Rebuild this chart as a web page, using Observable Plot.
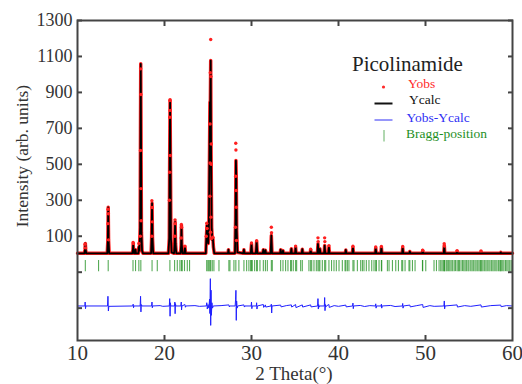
<!DOCTYPE html>
<html>
<head>
<meta charset="utf-8">
<script src="https://cdn.jsdelivr.net/npm/d3@7"></script>
<script src="https://cdn.jsdelivr.net/npm/@observablehq/plot@0.6"></script>
<style>
  html, body { margin: 0; padding: 0; background: #fff; }
  #chart { width: 522px; height: 384px; }
  #chart svg text { font-family: "Liberation Serif", "Times New Roman", Times, "Nimbus Roman", "Noto Serif", "DejaVu Serif", FreeSerif, serif; }
</style>
</head>
<body>
<div id="chart"></div>
<script>
// ---- data (2θ in degrees, intensity in arb. units) ----
const xTicks = [10, 20, 30, 40, 50, 60];
const yTickLabels = [100, 300, 500, 700, 900, 1100, 1300];
const yTickMarks = [-300, -100, 100, 300, 500, 700, 900, 1100, 1300];

// calculated profile (Ycalc)
const ycalc = [
  [10.0,5],[10.80,5],[10.86,25],[10.90,60],[10.94,25],[11.0,5],
  [13.42,5],[13.49,80],[13.53,261],[13.57,80],[13.64,5],
  [16.30,5],[16.37,25],[16.40,55],[16.44,25],[16.50,5],
  [16.62,5],[16.67,25],[16.72,5],
  [17.00,5],[17.05,40],[17.12,20],[17.20,150],[17.24,700],[17.27,1059],[17.31,560],[17.35,120],[17.42,20],[17.52,5],
  [18.46,5],[18.52,90],[18.57,284],[18.62,90],[18.70,5],
  [20.45,5],[20.55,90],[20.59,500],[20.64,859],[20.69,480],[20.74,90],[20.82,10],
  [21.10,5],[21.17,60],[21.22,180],[21.27,60],[21.35,5],
  [21.85,5],[21.91,50],[21.95,160],[21.99,50],[22.08,5],
  [22.28,5],[22.35,40],[22.42,5],
  [24.75,5],[24.82,100],[24.88,160],[24.94,110],[25.02,60],[25.10,150],[25.18,600],[25.22,846],[25.27,840],[25.31,1077],[25.35,600],[25.42,150],[25.50,80],[25.56,90],[25.62,40],[25.72,5],
  [27.30,5],[27.35,25],[27.40,5],
  [28.10,5],[28.17,200],[28.21,521],[28.25,420],[28.30,130],[28.38,10],
  [29.05,5],[29.13,25],[29.20,5],
  [29.92,5],[30.00,58],[30.07,5],
  [30.50,5],[30.59,71],[30.67,5],
  [31.30,5],[31.36,25],[31.43,5],[31.55,5],[31.60,22],[31.66,5],
  [32.20,5],[32.28,104],[32.36,5],
  [33.30,5],[33.35,25],[33.40,5],
  [33.55,5],[33.62,20],[33.68,5],
  [34.52,5],[34.58,30],[34.64,5],
  [35.01,5],[35.07,39],[35.13,5],
  [35.78,5],[35.84,28],[35.90,5],
  [36.74,5],[36.80,24],[36.86,5],
  [37.58,5],[37.64,58],[37.70,5],
  [37.80,5],[37.86,30],[37.92,5],
  [38.35,5],[38.41,48],[38.47,5],
  [38.84,5],[38.90,40],[38.96,5],
  [40.78,5],[40.84,24],[40.90,5],
  [41.60,5],[41.66,38],[41.72,5],
  [44.22,5],[44.28,35],[44.34,5],
  [44.87,5],[44.93,38],[44.99,5],
  [47.32,5],[47.38,36],[47.44,5],
  [48.15,5],[48.20,15],[48.25,5],
  [49.62,5],[49.68,20],[49.74,5],
  [52.10,5],[52.16,48],[52.22,5],
  [53.58,5],[53.63,15],[53.68,5],
  [56.33,5],[56.38,14],[56.43,5],
  [58.60,5],[58.65,10],[58.70,5],
  [60.0,5]
];

// observed points on the peaks (Yobs)
const yobs = [
  [10.88,55],[10.92,35],
  [13.51,250],[13.55,225],[13.50,170],[13.56,80],
  [16.39,65],[16.42,60],
  [17.05,60],[17.26,1031],[17.28,888],[17.24,577],[17.29,365],[17.31,186],[17.22,100],
  [18.55,298],[18.58,260],[18.60,180],[18.54,100],
  [20.63,855],[20.65,800],[20.61,762],[20.66,549],[20.60,456],[20.57,300],
  [21.21,191],[21.23,170],[21.19,100],
  [21.94,165],[21.96,150],[21.92,90],
  [22.35,45],
  [24.86,172],[24.90,143],[24.80,100],
  [25.31,1194],[25.26,1009],[25.33,988],[25.24,724],[25.24,507],[25.37,613],[25.37,500],[25.22,322],[25.34,206],[25.29,122],[25.40,87],[25.56,95],
  [28.19,617],[28.21,580],[28.18,434],[28.23,354],[28.24,261],[28.16,150],[28.27,76],
  [30.00,62],[30.59,75],
  [32.28,150],[32.30,119],
  [35.07,45],[36.80,28],[37.64,91],[37.66,70],[38.41,91],[38.43,70],[38.90,48],
  [41.66,44],[44.28,40],[44.93,43],[47.38,43],[49.68,22],[52.15,58],[52.18,45],[53.63,20],[56.38,18]
];

// difference curve (Yobs - Ycalc, shown offset)
const diff = [
  [10,-288],[10.85,-288],[10.88,-266],[10.92,-303],[10.96,-288],
  [13.45,-288],[13.50,-234],[13.55,-316],[13.60,-290],
  [16.35,-288],[16.40,-278],[16.44,-298],[16.48,-288],
  [17.20,-288],[17.25,-234],[17.29,-321],[17.33,-280],[17.40,-288],
  [18.52,-288],[18.56,-266],[18.60,-298],[18.64,-288],
  [19.5,-286],[19.8,-290],
  [20.55,-288],[20.60,-247],[20.64,-345],[20.68,-270],[20.72,-288],
  [21.15,-288],[21.19,-266],[21.22,-331],[21.26,-275],[21.30,-288],
  [21.88,-288],[21.93,-266],[21.96,-310],[22.00,-288],
  [22.35,-280],[22.40,-295],[22.45,-288],
  [23.5,-286],[24.0,-290],
  [24.80,-288],[24.86,-270],[24.92,-305],[25.00,-280],[25.10,-300],[25.18,-250],[25.22,-330],[25.27,-136],[25.31,-396],[25.35,-200],[25.39,-340],[25.45,-270],[25.52,-300],[25.60,-288],
  [26.5,-286],[27.4,-282],[27.45,-293],[27.5,-288],
  [28.12,-288],[28.17,-250],[28.21,-201],[28.25,-368],[28.29,-260],[28.35,-300],[28.42,-288],
  [29.13,-282],[29.18,-294],[29.25,-288],
  [29.96,-288],[30.00,-266],[30.04,-303],[30.08,-288],
  [30.55,-288],[30.59,-270],[30.63,-305],[30.67,-288],
  [31.36,-280],[31.40,-296],[31.60,-282],[31.64,-294],
  [32.24,-288],[32.28,-278],[32.32,-327],[32.36,-288],
  [33.35,-283],[33.40,-293],[34.0,-286],[34.58,-282],[34.62,-294],[35.07,-280],[35.11,-297],[35.84,-282],[35.88,-294],[36.80,-282],[36.84,-293],
  [37.60,-288],[37.64,-247],[37.68,-305],[37.72,-280],[37.76,-295],[37.80,-288],
  [38.37,-288],[38.41,-241],[38.45,-314],[38.49,-280],[38.53,-294],[38.60,-288],
  [38.90,-280],[38.94,-296],[39.5,-286],[40.0,-290],[40.84,-283],[40.88,-293],
  [41.62,-288],[41.66,-272],[41.70,-303],[41.74,-288],
  [42.5,-285],[43.0,-291],[43.6,-286],
  [44.24,-288],[44.28,-276],[44.32,-300],[44.36,-288],
  [44.89,-288],[44.93,-278],[44.97,-300],[45.01,-288],
  [46.0,-285],[46.5,-291],
  [47.34,-288],[47.38,-274],[47.42,-300],[47.46,-288],
  [48.20,-283],[48.25,-293],[49.0,-286],[49.68,-280],[49.72,-296],
  [50.5,-286],[51.0,-290],
  [52.12,-288],[52.16,-260],[52.20,-304],[52.24,-288],
  [53.63,-282],[53.67,-294],[54.5,-286],[55.2,-290],[56.38,-282],[56.42,-294],[57.5,-286],[58.65,-283],[58.69,-292],[59.3,-286],[60,-288]
];

// Bragg reflection positions (2θ)
const bragg = [
  10.90, 12.42, 13.53, 16.38, 16.67, 17.05, 17.28, 18.57, 19.17, 20.62, 21.16, 21.47, 21.77, 21.95, 22.04, 22.30, 22.62, 22.88,
  24.85, 24.99, 25.10, 25.22, 25.31, 25.49, 25.68, 26.26, 27.40, 27.52, 27.98, 28.20, 28.55, 29.13, 29.44, 29.70, 29.90, 30.00,
  30.09, 30.36, 30.59, 30.67, 30.97, 31.36, 31.60, 31.82, 32.28, 32.39,
  33.35, 33.62, 33.92, 34.19, 34.50, 34.58, 34.80, 35.07, 35.19, 35.65, 35.84,
  36.60, 36.80, 36.92, 37.18, 37.45, 37.64, 37.76, 37.86, 38.14, 38.41, 38.53, 38.90, 39.20, 39.48, 39.75, 40.06, 40.44, 40.75,
  40.84, 41.02, 41.20, 41.66, 41.78, 42.17, 42.55, 42.75, 42.93, 43.20, 43.50, 43.82, 44.08, 44.28, 44.36, 44.66, 44.93, 44.97,
  45.62, 45.81, 46.20, 46.58, 46.89, 47.27, 47.38, 47.65, 48.10, 48.20, 48.50, 48.80, 49.65, 49.68, 50.03,
  50.98, 51.26, 51.56, 51.75, 51.90, 52.05, 52.16, 52.20, 52.38, 52.50, 52.66, 52.80, 52.95, 53.12, 53.30, 53.45, 53.63, 53.78,
  53.90, 54.08, 54.25, 54.40, 54.55, 54.70, 54.88, 55.00, 55.20, 55.35, 55.50, 55.68, 55.82, 56.00, 56.15, 56.30, 56.38, 56.48,
  56.62, 56.80, 56.95, 57.10, 57.28, 57.42, 57.60, 57.75, 57.90, 58.08, 58.22, 58.40, 58.55, 58.65, 58.70, 58.88, 59.02, 59.20,
  59.35, 59.50, 59.68, 59.85
];

const legendItems = ["Yobs", "Ycalc", "Yobs-Ycalc", "Bragg-position"];
const legendColors = ["#ff2a2a", "#111111", "#2f2ff5", "#1f8f1f"];

// ---- chart ----
const AX = "#444";
const fmt = d => String(d);
const chart = Plot.plot({
  width: 522,
  height: 384,
  marginLeft: 77,
  marginRight: 10,
  marginTop: 20,
  marginBottom: 44,
  style: {background: "#fff", color: "#333"},
  x: {domain: [10, 60]},
  y: {domain: [-480, 1300]},
  marks: [
    Plot.ruleX(bragg, {x: d => d, y1: -35, y2: -97, stroke: "#1f8f1f", strokeOpacity: 0.75, strokeWidth: 1.1}),
    Plot.line(diff, {x: d => d[0], y: d => d[1], stroke: "#1f1fff", strokeWidth: 1}),
    Plot.line(ycalc, {x: d => d[0], y: d => d[1], stroke: "#ff2020", strokeWidth: 3.5}),
    Plot.line(ycalc, {x: d => d[0], y: d => d[1], stroke: "#000", strokeWidth: 1.8}),
    Plot.dot(yobs, {x: d => d[0], y: d => d[1], r: 1.7, fill: "#ff2020", stroke: null}),
    Plot.frame({stroke: AX, strokeWidth: 2}),
    Plot.axisY(yTickLabels, {anchor: "left", tickSize: 0, tickPadding: 5, fontSize: 18, tickFormat: fmt, label: null}),
    Plot.axisY(yTickMarks, {anchor: "left", tickSize: -5, tickFormat: () => "", stroke: AX, strokeWidth: 2, label: null}),
    Plot.axisY(yTickMarks, {anchor: "right", tickSize: -5, tickFormat: () => "", stroke: AX, strokeWidth: 2, label: null}),
    Plot.axisX(xTicks, {anchor: "bottom", tickSize: 0, tickPadding: 5, fontSize: 21, tickFormat: fmt, label: null}),
    Plot.axisX(xTicks.slice(1, -1), {anchor: "bottom", tickSize: -5, tickFormat: () => "", stroke: AX, strokeWidth: 2, label: null}),
    Plot.axisX(xTicks.slice(1, -1), {anchor: "top", tickSize: -5, tickFormat: () => "", stroke: AX, strokeWidth: 2, label: null})
  ]
});
document.getElementById("chart").appendChild(chart);

// axis titles and in-plot legend
const svg = d3.select(chart);
svg.append("text")
  .attr("transform", "translate(28,156) rotate(-90)")
  .attr("text-anchor", "middle")
  .attr("font-size", 17.5).attr("fill", "#333")
  .text("Intensity (arb. units)");
svg.append("text")
  .attr("x", 294).attr("y", 380)
  .attr("text-anchor", "middle")
  .attr("font-size", 19).attr("fill", "#333")
  .text("2 Theta(°)");

const lg = svg.append("g").attr("text-anchor", "start");
lg.append("text").attr("x", 352).attr("y", 71).attr("font-size", 21).attr("fill", "#222").text("Picolinamide");
const rows = [88, 104, 121.5, 137.5];
const textX = [408, 409, 406.5, 406];
legendItems.forEach((t, i) => {
  lg.append("text").attr("x", textX[i]).attr("y", rows[i]).attr("font-size", 13.5).attr("fill", legendColors[i]).text(t);
});
lg.append("circle").attr("cx", 383.5).attr("cy", 87).attr("r", 1.6).attr("fill", legendColors[0]);
lg.append("line").attr("x1", 374.5).attr("x2", 392.5).attr("y1", 103.5).attr("y2", 103.5).attr("stroke", legendColors[1]).attr("stroke-width", 2);
lg.append("line").attr("x1", 374.5).attr("x2", 392.5).attr("y1", 120).attr("y2", 120).attr("stroke", legendColors[2]).attr("stroke-width", 1);
lg.append("line").attr("x1", 384).attr("x2", 384).attr("y1", 130).attr("y2", 141.5).attr("stroke", legendColors[3]).attr("stroke-opacity", 0.7).attr("stroke-width", 1);
</script>
</body>
</html>
